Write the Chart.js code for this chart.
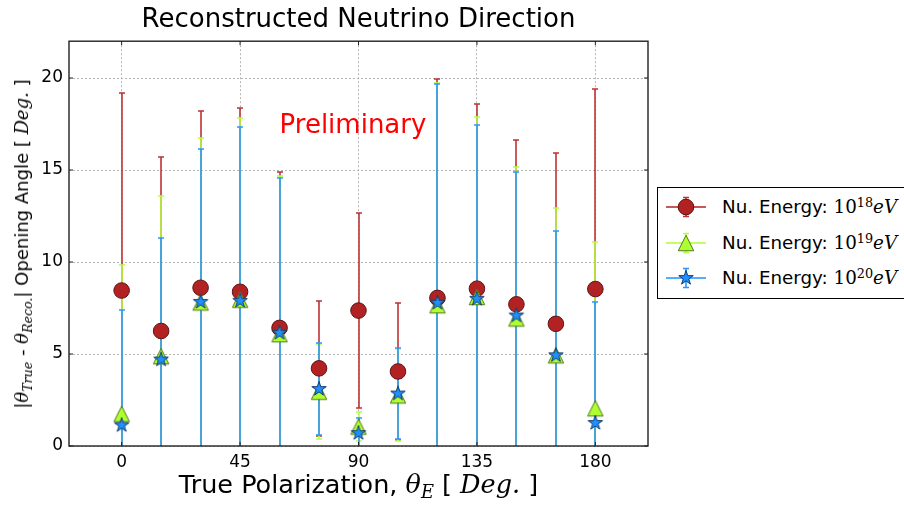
<!DOCTYPE html>
<html>
<head>
<meta charset="utf-8">
<script src="https://cdn.jsdelivr.net/npm/chart.js@4.4.1/dist/chart.umd.min.js"></script>
<style>
html, body { margin:0; padding:0; background:#fff; overflow:hidden; }
#wrap { position:relative; width:904px; height:506px; overflow:hidden; background:#fff; }
#chart { position:absolute; left:0; top:0; }
.m { font-family:"DejaVu Serif", serif; font-style:italic; }
.up { font-family:"DejaVu Serif", serif; font-style:normal; }
.sub { font-size:0.7em; position:relative; top:0.3em; line-height:0; }
.sup { font-size:0.7em; position:relative; top:-0.45em; line-height:0; }
#xtitle { position:absolute; left:69px; width:579px; top:472px; line-height:25px; text-align:center;
  font-family:"DejaVu Sans", sans-serif; font-size:25.5px; color:#000; white-space:nowrap; }
#ytitle { position:absolute; left:22px; top:243.5px; line-height:18px; transform:translate(-50%,-50%) rotate(-90deg);
  font-family:"DejaVu Sans", sans-serif; font-size:18px; color:#000; white-space:nowrap; }
#legend { position:absolute; left:657px; top:187px; width:300px; height:112px; border:1px solid #000;
  box-sizing:border-box; background:#fff; }
.item { position:absolute; left:0; height:26px; width:300px; }
.item canvas { position:absolute; left:7px; top:0; }
.item span.t { position:absolute; left:64px; top:3px; line-height:20px; font-family:"DejaVu Sans", sans-serif;
  font-size:18.3px; color:#000; white-space:nowrap; }
</style>
</head>
<body>
<div id="wrap">
  <canvas id="chart" width="904" height="506"></canvas>
  <div id="ytitle">|<span class="m">θ</span><span class="sub m">True</span> - <span class="m">θ</span><span class="sub m">Reco.</span>| Opening Angle [ <span class="m">Deg.</span> ]</div>
  <div id="xtitle">True Polarization, <span class="m">θ</span><span class="sub m">E</span> [ <span class="m">Deg.</span>  ]</div>
  <div id="legend"></div>
</div>
<script>
// ---------------- data ----------------
const angles = [0, 15, 30, 45, 60, 75, 90, 105, 120, 135, 150, 165, 180];
const xTicks = [0, 45, 90, 135, 180];
const yTicks = [0, 5, 10, 15, 20];

const e18Values = [8.45, 6.25, 8.60, 8.38, 6.42, 4.22, 7.36, 4.05, 8.05, 8.55, 7.70, 6.64, 8.53];
const e18Errors = [10.72, 9.47, 9.60, 9.99, 8.48, 3.65, 5.28, 3.73, 11.90, 10.04, 8.91, 9.30, 10.85];

const e19Values = [1.75, 4.88, 7.80, 7.95, 6.08, 2.95, 1.05, 2.75, 7.65, 8.10, 6.93, 4.93, 2.05];
const e19Errors = [8.08, 8.70, 8.92, 9.85, 8.59, 2.58, 0.80, 2.50, 12.10, 9.80, 8.21, 8.02, 9.01];

const e20Values = [1.13, 4.70, 7.83, 7.89, 6.15, 3.10, 0.70, 2.85, 7.78, 8.00, 7.09, 4.93, 1.25];
const e20Errors = [6.25, 6.63, 8.31, 9.43, 8.43, 2.52, 0.80, 2.45, 11.88, 9.46, 7.78, 6.73, 6.58];

const seriesNames = ['18', '19', '20'];

// ---------------- styles ----------------
const RED = '#b22222', RED_EDGE = '#5e1414', RED_BAR = '#bb3333';
const GREEN = '#adff2f', GREEN_EDGE = '#55771c', GREEN_BAR = '#b4ff40';
const BLUE = '#1e90ff', BLUE_EDGE = '#123c6e', BLUE_BAR = '#2b95ff';
const BAR_WIDTH = 1.6;

function drawStarPath(ctx, cx, cy, R) {
  const r = R * 0.381966;
  ctx.beginPath();
  for (let k = 0; k < 10; k++) {
    const rad = -Math.PI / 2 + k * Math.PI / 5;
    const rr = (k % 2 === 0) ? R : r;
    const px = cx + rr * Math.cos(rad), py = cy + rr * Math.sin(rad);
    if (k === 0) ctx.moveTo(px, py); else ctx.lineTo(px, py);
  }
  ctx.closePath();
}
function drawTriPath(ctx, cx, cy, h) {
  ctx.beginPath();
  ctx.moveTo(cx, cy - h / 2);
  ctx.lineTo(cx + h / 2, cy + h / 2);
  ctx.lineTo(cx - h / 2, cy + h / 2);
  ctx.closePath();
}
function drawMarker(ctx, kind, cx, cy) {
  ctx.save();
  ctx.lineWidth = 1;
  if (kind === 'circle') {
    ctx.beginPath(); ctx.arc(cx, cy, 7.8, 0, Math.PI * 2);
    ctx.fillStyle = RED; ctx.strokeStyle = RED_EDGE;
  } else if (kind === 'tri') {
    drawTriPath(ctx, cx, cy, 15.5);
    ctx.fillStyle = GREEN; ctx.strokeStyle = GREEN_EDGE;
  } else {
    drawStarPath(ctx, cx, cy, 7.6);
    ctx.fillStyle = BLUE; ctx.strokeStyle = BLUE_EDGE;
  }
  ctx.fill(); ctx.stroke();
  ctx.restore();
}
function makeMarkerImage(kind) {
  const c = document.createElement('canvas');
  c.width = 22; c.height = 22;
  drawMarker(c.getContext('2d'), kind, 11, 11);
  return c;
}
const triImg = makeMarkerImage('tri');
const starImg = makeMarkerImage('star');

const series = [
  { values: e18Values, errors: e18Errors, bar: RED_BAR },
  { values: e19Values, errors: e19Errors, bar: GREEN_BAR },
  { values: e20Values, errors: e20Errors, bar: BLUE_BAR }
];

// ---------------- plugins ----------------
const errorBarPlugin = {
  id: 'errorBars',
  beforeDatasetsDraw(chart) {
    const { ctx, chartArea: a, scales: { x, y } } = chart;
    ctx.save();
    ctx.beginPath(); ctx.rect(a.left, a.top, a.right - a.left, a.bottom - a.top); ctx.clip();
    series.forEach(s => {
      ctx.strokeStyle = s.bar; ctx.lineWidth = BAR_WIDTH;
      angles.forEach((ang, i) => {
        const px = Math.round(x.getPixelForValue(ang));
        const top = Math.round(y.getPixelForValue(s.values[i] + s.errors[i]));
        const bot = Math.round(y.getPixelForValue(s.values[i] - s.errors[i]));
        ctx.beginPath();
        ctx.moveTo(px, top); ctx.lineTo(px, bot);
        ctx.moveTo(px - 3, top); ctx.lineTo(px + 3, top);
        ctx.moveTo(px - 3, bot); ctx.lineTo(px + 3, bot);
        ctx.stroke();
      });
    });
    ctx.restore();
  }
};

const framePlugin = {
  id: 'frame',
  afterDraw(chart) {
    const { ctx, chartArea: a, scales: { x, y } } = chart;
    ctx.save();
    ctx.strokeStyle = '#222'; ctx.lineWidth = 1.4;
    ctx.strokeRect(a.left, a.top, a.right - a.left, a.bottom - a.top);
    ctx.lineWidth = 1;
    ctx.beginPath();
    xTicks.forEach(v => {
      const px = x.getPixelForValue(v);
      ctx.moveTo(px, a.bottom); ctx.lineTo(px, a.bottom - 4);
      ctx.moveTo(px, a.top); ctx.lineTo(px, a.top + 4);
    });
    yTicks.forEach(v => {
      const py = y.getPixelForValue(v);
      ctx.moveTo(a.left, py); ctx.lineTo(a.left + 4, py);
      ctx.moveTo(a.right, py); ctx.lineTo(a.right - 4, py);
    });
    ctx.stroke();
    ctx.restore();
  }
};

const prelimPlugin = {
  id: 'prelim',
  afterDatasetsDraw(chart) {
    const { ctx, scales: { x, y } } = chart;
    ctx.save();
    ctx.font = '26px "DejaVu Sans"';
    ctx.fillStyle = '#ff0000';
    ctx.textAlign = 'left'; ctx.textBaseline = 'alphabetic';
    ctx.fillText('Preliminary', x.getPixelForValue(60), y.getPixelForValue(17));
    ctx.restore();
  }
};

// ---------------- chart ----------------
const toPoints = vals => angles.map((a, i) => ({ x: a, y: vals[i] }));
const tickFont = { family: 'DejaVu Sans', size: 17 };

new Chart(document.getElementById('chart'), {
  type: 'scatter',
  data: {
    datasets: [
      { label: 'Nu. Energy: 10^20 eV', data: toPoints(e20Values), order: 0,
        pointStyle: starImg, pointRadius: 7, backgroundColor: BLUE, borderColor: BLUE_EDGE },
      { label: 'Nu. Energy: 10^19 eV', data: toPoints(e19Values), order: 1,
        pointStyle: triImg, pointRadius: 7, backgroundColor: GREEN, borderColor: GREEN_EDGE },
      { label: 'Nu. Energy: 10^18 eV', data: toPoints(e18Values), order: 2,
        pointStyle: 'circle', pointRadius: 7.8, pointBorderWidth: 1, backgroundColor: RED, borderColor: RED_EDGE }
    ]
  },
  options: {
    responsive: false,
    animation: false,
    devicePixelRatio: 1,
    layout: { padding: { left: 0, right: 256, top: 0, bottom: 0 } },
    plugins: {
      legend: { display: false },
      tooltip: { enabled: false },
      title: {
        display: true,
        fullSize: false,
        text: 'Reconstructed Neutrino Direction',
        color: '#000',
        font: { family: 'DejaVu Sans', size: 26, weight: 'normal' },
        padding: { top: 5, bottom: 5 }
      }
    },
    scales: {
      x: {
        type: 'linear', min: -20, max: 200,
        afterBuildTicks: s => { s.ticks = xTicks.map(v => ({ value: v })); },
        afterFit: s => { s.height = 60; },
        ticks: { color: '#000', font: tickFont, padding: 6, maxRotation: 0 },
        grid: { color: '#b4b4b4', lineWidth: 1, drawTicks: false },
        border: { display: false, dash: [2, 2] }
      },
      y: {
        type: 'linear', min: 0, max: 22,
        afterBuildTicks: s => { s.ticks = yTicks.map(v => ({ value: v })); },
        afterFit: s => { s.width = 69; },
        ticks: { color: '#000', font: tickFont, padding: 6 },
        grid: { color: '#b4b4b4', lineWidth: 1, drawTicks: false },
        border: { display: false, dash: [2, 2] }
      }
    }
  },
  plugins: [errorBarPlugin, prelimPlugin, framePlugin]
});

// ---------------- HTML legend ----------------
const legend = document.getElementById('legend');
const centers = [19.7, 55.7, 90.7];
const barColors = [RED_BAR, GREEN_BAR, BLUE_BAR];
const lineColors = [RED, GREEN, BLUE];
const kinds = ['circle', 'tri', 'star'];
seriesNames.forEach((exp, k) => {
  const item = document.createElement('div');
  item.className = 'item';
  item.style.top = (centers[k] - 13 - 1) + 'px';
  const c = document.createElement('canvas');
  c.width = 42; c.height = 26;
  const g = c.getContext('2d');
  g.strokeStyle = lineColors[k]; g.lineWidth = BAR_WIDTH;
  g.beginPath(); g.moveTo(1, 13); g.lineTo(41, 13); g.stroke();
  g.strokeStyle = barColors[k];
  g.beginPath();
  g.moveTo(21, 3.5); g.lineTo(21, 22.5);
  g.moveTo(18, 3.5); g.lineTo(24, 3.5);
  g.moveTo(18, 22.5); g.lineTo(24, 22.5);
  g.stroke();
  drawMarker(g, kinds[k], 21, 13);
  item.appendChild(c);
  const t = document.createElement('span');
  t.className = 't';
  t.innerHTML = 'Nu. Energy: <span class="up">10</span><span class="sup up">' + exp + '</span><span class="m">eV</span>';
  item.appendChild(t);
  legend.appendChild(item);
});
</script>
</body>
</html>
